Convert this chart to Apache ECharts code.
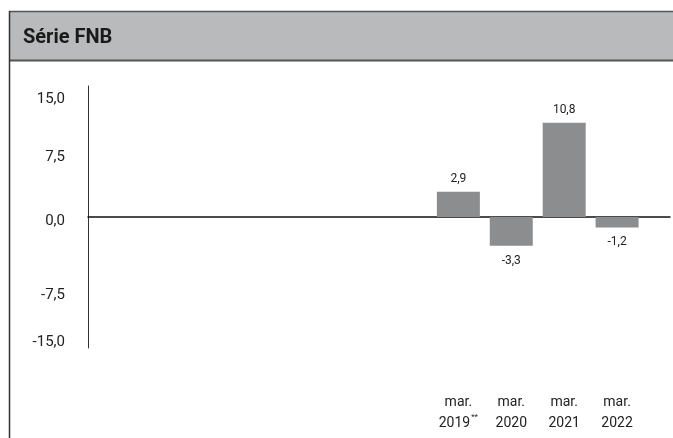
<!DOCTYPE html>
<html>
<head>
<meta charset="utf-8">
<script src="https://cdn.jsdelivr.net/npm/echarts@6/dist/echarts.min.js"></script>
<style>
  html, body { margin: 0; padding: 0; background: #fff; }
  #chart { width: 673px; height: 438px; }
</style>
</head>
<body>
<div id="chart"></div>
<script>
// Periods on the category axis (leading and trailing slots stay empty)
const categories = ['', '', '', '', '', '', '', 'mar.\n2019', 'mar.\n2020', 'mar.\n2021', 'mar.\n2022', ''];
// Footnote marks appended to some period labels
const footnotes = ['', '', '', '', '', '', '', '**', '', '', '', ''];
// Variation (%) per period
const values = [null, null, null, null, null, null, null, 2.9, -3.3, 10.8, -1.2, null];
// Value axis ticks
const yTicks = [-15, -7.5, 0, 7.5, 15];

const fmt = (v, d) => v.toFixed(d).replace('.', ',');

// Small vertical nudges (px) of the value-axis labels, keyed by tick
const tickNudge = { '15': 13, '7.5': 6, '0': 4, '-7.5': 13, '-15': -6 };

const chart = echarts.init(document.getElementById('chart'), null, { renderer: 'canvas' });

const barData = values.map(v => v == null ? null : {
  value: v,
  label: { position: v < 0 ? 'bottom' : 'top', distance: v < 0 ? 9 : 7 }
});

const tickRich = {};
yTicks.forEach((t, i) => {
  const n = tickNudge[String(t)] || 0;
  tickRich['t' + i] = {
    fontSize: 15, color: '#222', fontFamily: 'Roboto, sans-serif',
    padding: n >= 0 ? [2 * n, 0, 0, 0] : [0, 0, -2 * n, 0]
  };
});

chart.setOption({
  animation: false,
  backgroundColor: '#ffffff',
  textStyle: { fontFamily: 'Roboto, sans-serif' },
  graphic: [
    { type: 'rect', shape: { x: 9, y: 11, width: 664, height: 50 }, style: { fill: '#b9babb' }, z: -1 },
    { type: 'line', shape: { x1: 9, y1: 11.5, x2: 673, y2: 11.5 }, style: { stroke: '#555', lineWidth: 1.5 } },
    { type: 'line', shape: { x1: 9, y1: 60.5, x2: 673, y2: 60.5 }, style: { stroke: '#555', lineWidth: 2 } },
    { type: 'line', shape: { x1: 9.5, y1: 11, x2: 9.5, y2: 438 }, style: { stroke: '#333', lineWidth: 1.5 } }
  ],
  title: {
    text: 'Série FNB',
    left: 18,
    top: 23,
    textStyle: { fontSize: 20, fontWeight: 'bold', color: '#1a1a1a', fontFamily: 'Roboto, sans-serif' }
  },
  grid: { left: 88, right: 2, top: 86, bottom: 90, containLabel: false },
  xAxis: [
    {
      type: 'category',
      data: categories,
      boundaryGap: false,
      axisLine: { show: true, onZero: true, lineStyle: { color: '#111', width: 1.5 } },
      axisTick: { show: false },
      axisLabel: { show: false },
      splitLine: { show: false }
    },
    {
      type: 'category',
      data: categories,
      boundaryGap: false,
      position: 'bottom',
      axisLine: { show: false, onZero: false },
      axisTick: { show: false },
      splitLine: { show: false },
      axisLabel: {
        margin: 44,
        interval: 0,
        formatter: (val, idx) => {
          if (!val) return '';
          const parts = val.split('\n');
          return '{m|' + parts[0] + '}\n{y|' + parts[1] + '}' + (footnotes[idx] ? '{s|' + footnotes[idx] + '}' : '');
        },
        rich: {
          m: { fontSize: 14, color: '#222', lineHeight: 21, fontFamily: 'Roboto, sans-serif' },
          y: { fontSize: 14, color: '#222', lineHeight: 21, fontFamily: 'Roboto, sans-serif' },
          s: { fontSize: 8, color: '#222', verticalAlign: 'top', lineHeight: 21, padding: [0, 0, 8, 1] }
        }
      }
    }
  ],
  yAxis: {
    type: 'value',
    min: yTicks[0],
    max: yTicks[yTicks.length - 1],
    interval: 7.5,
    axisLine: { show: true, lineStyle: { color: '#333', width: 1 } },
    axisTick: { show: false },
    splitLine: { show: false },
    axisLabel: {
      margin: 23,
      fontSize: 15,
      color: '#222',
      formatter: v => {
        const i = yTicks.indexOf(v);
        return '{t' + i + '|' + fmt(v, 1) + '}';
      },
      rich: tickRich
    }
  },
  series: [{
    type: 'bar',
    xAxisIndex: 0,
    data: barData,
    barWidth: 43,
    itemStyle: { color: '#8b8d8f' },
    label: {
      show: true,
      fontSize: 12,
      color: '#222',
      formatter: p => fmt(p.value, 1)
    }
  }]
});
</script>
</body>
</html>
